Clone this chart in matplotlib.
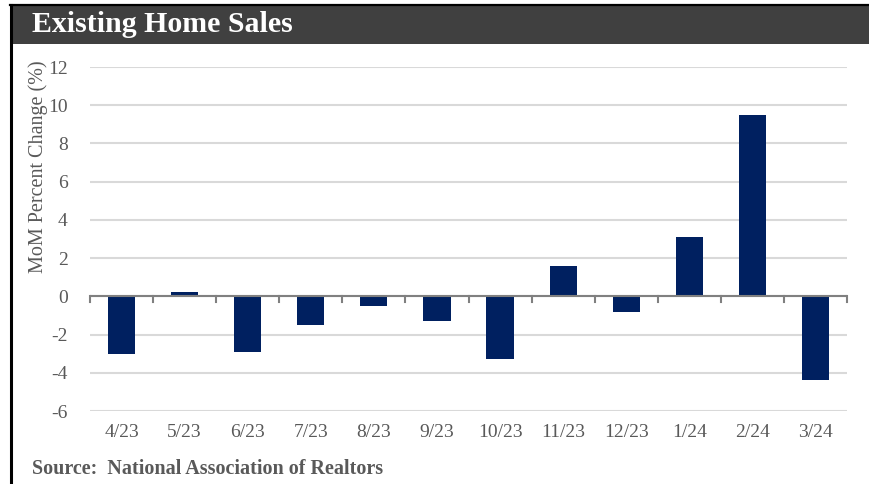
import matplotlib.pyplot as plt
import numpy as np
from matplotlib.patches import Rectangle
from matplotlib.lines import Line2D

# MoM percent change, existing home sales
months = ["4/23", "5/23", "6/23", "7/23", "8/23", "9/23",
          "10/23", "11/23", "12/23", "1/24", "2/24", "3/24"]
mom_change = [-3.0, 0.25, -2.9, -1.5, -0.5, -1.3,
              -3.3, 1.6, -0.8, 3.1, 9.5, -4.4]
yticks = [-6, -4, -2, 0, 2, 4, 6, 8, 10, 12]

serif = ["Liberation Serif", "DejaVu Serif"]
grey = "#595959"

fig = plt.figure(figsize=(8.69, 4.84), dpi=100)
fig.patch.set_facecolor("white")

# title bar + frame lines
W, H = 869.0, 484.0
fig.patches.append(Rectangle((11 / W, 1 - 44 / H), 1 - 11 / W, 39 / H,
                             transform=fig.transFigure, facecolor="#404040",
                             edgecolor="none", zorder=0))
fig.lines.append(Line2D([10 / W, 1], [1 - 4.5 / H, 1 - 4.5 / H],
                        transform=fig.transFigure, color="black", lw=1.6))
fig.lines.append(Line2D([11 / W, 11 / W], [0, 1 - 4.5 / H],
                        transform=fig.transFigure, color="black", lw=2.2))
fig.text(32 / W, 1 - 25 / H, "Existing Home Sales", color="white",
         family=serif, fontsize=21.5, fontweight="bold", va="center", ha="left")

ax = fig.add_axes([90 / W, 1 - 411 / H, 757 / W, 344 / H])
x = np.arange(len(months))
ax.bar(x, mom_change, width=0.43, color="#002060", zorder=3)

ax.set_xlim(-0.5, len(months) - 0.5)
ax.set_ylim(-6, 12)
ax.set_yticks(yticks)
ax.set_yticklabels([str(t) for t in yticks], family=serif, fontsize=14, color=grey)
ax.yaxis.grid(True, color="#d9d9d9", lw=1.5, zorder=0)
ax.tick_params(axis="y", length=0, pad=16)

# category labels below the plot
ax.set_xticks([])
for i, m in enumerate(months):
    ax.text(i, -7.1, m, ha="center", va="center", family=serif,
            fontsize=14, color=grey, transform=ax.transData, clip_on=False)

# zero line with tick marks at category boundaries
ax.axhline(0, color="#808080", lw=1.5, zorder=4)
for b in np.arange(-0.5, len(months), 1.0):
    ax.plot([b, b], [0, -0.3], color="#808080", lw=1.5, zorder=4,
            clip_on=False)

for s in ax.spines.values():
    s.set_visible(False)

fig.text(38 / W, 1 - 167 / H, "MoM Percent Change (%)", rotation=90,
         family=serif, fontsize=14.5, color=grey, ha="center", va="center")
fig.text(32 / W, 1 - 469 / H, "Source:  National Association of Realtors",
         family=serif, fontsize=14.5, fontweight="bold", color=grey,
         ha="left", va="center")

fig.savefig("out.png", dpi=100)
